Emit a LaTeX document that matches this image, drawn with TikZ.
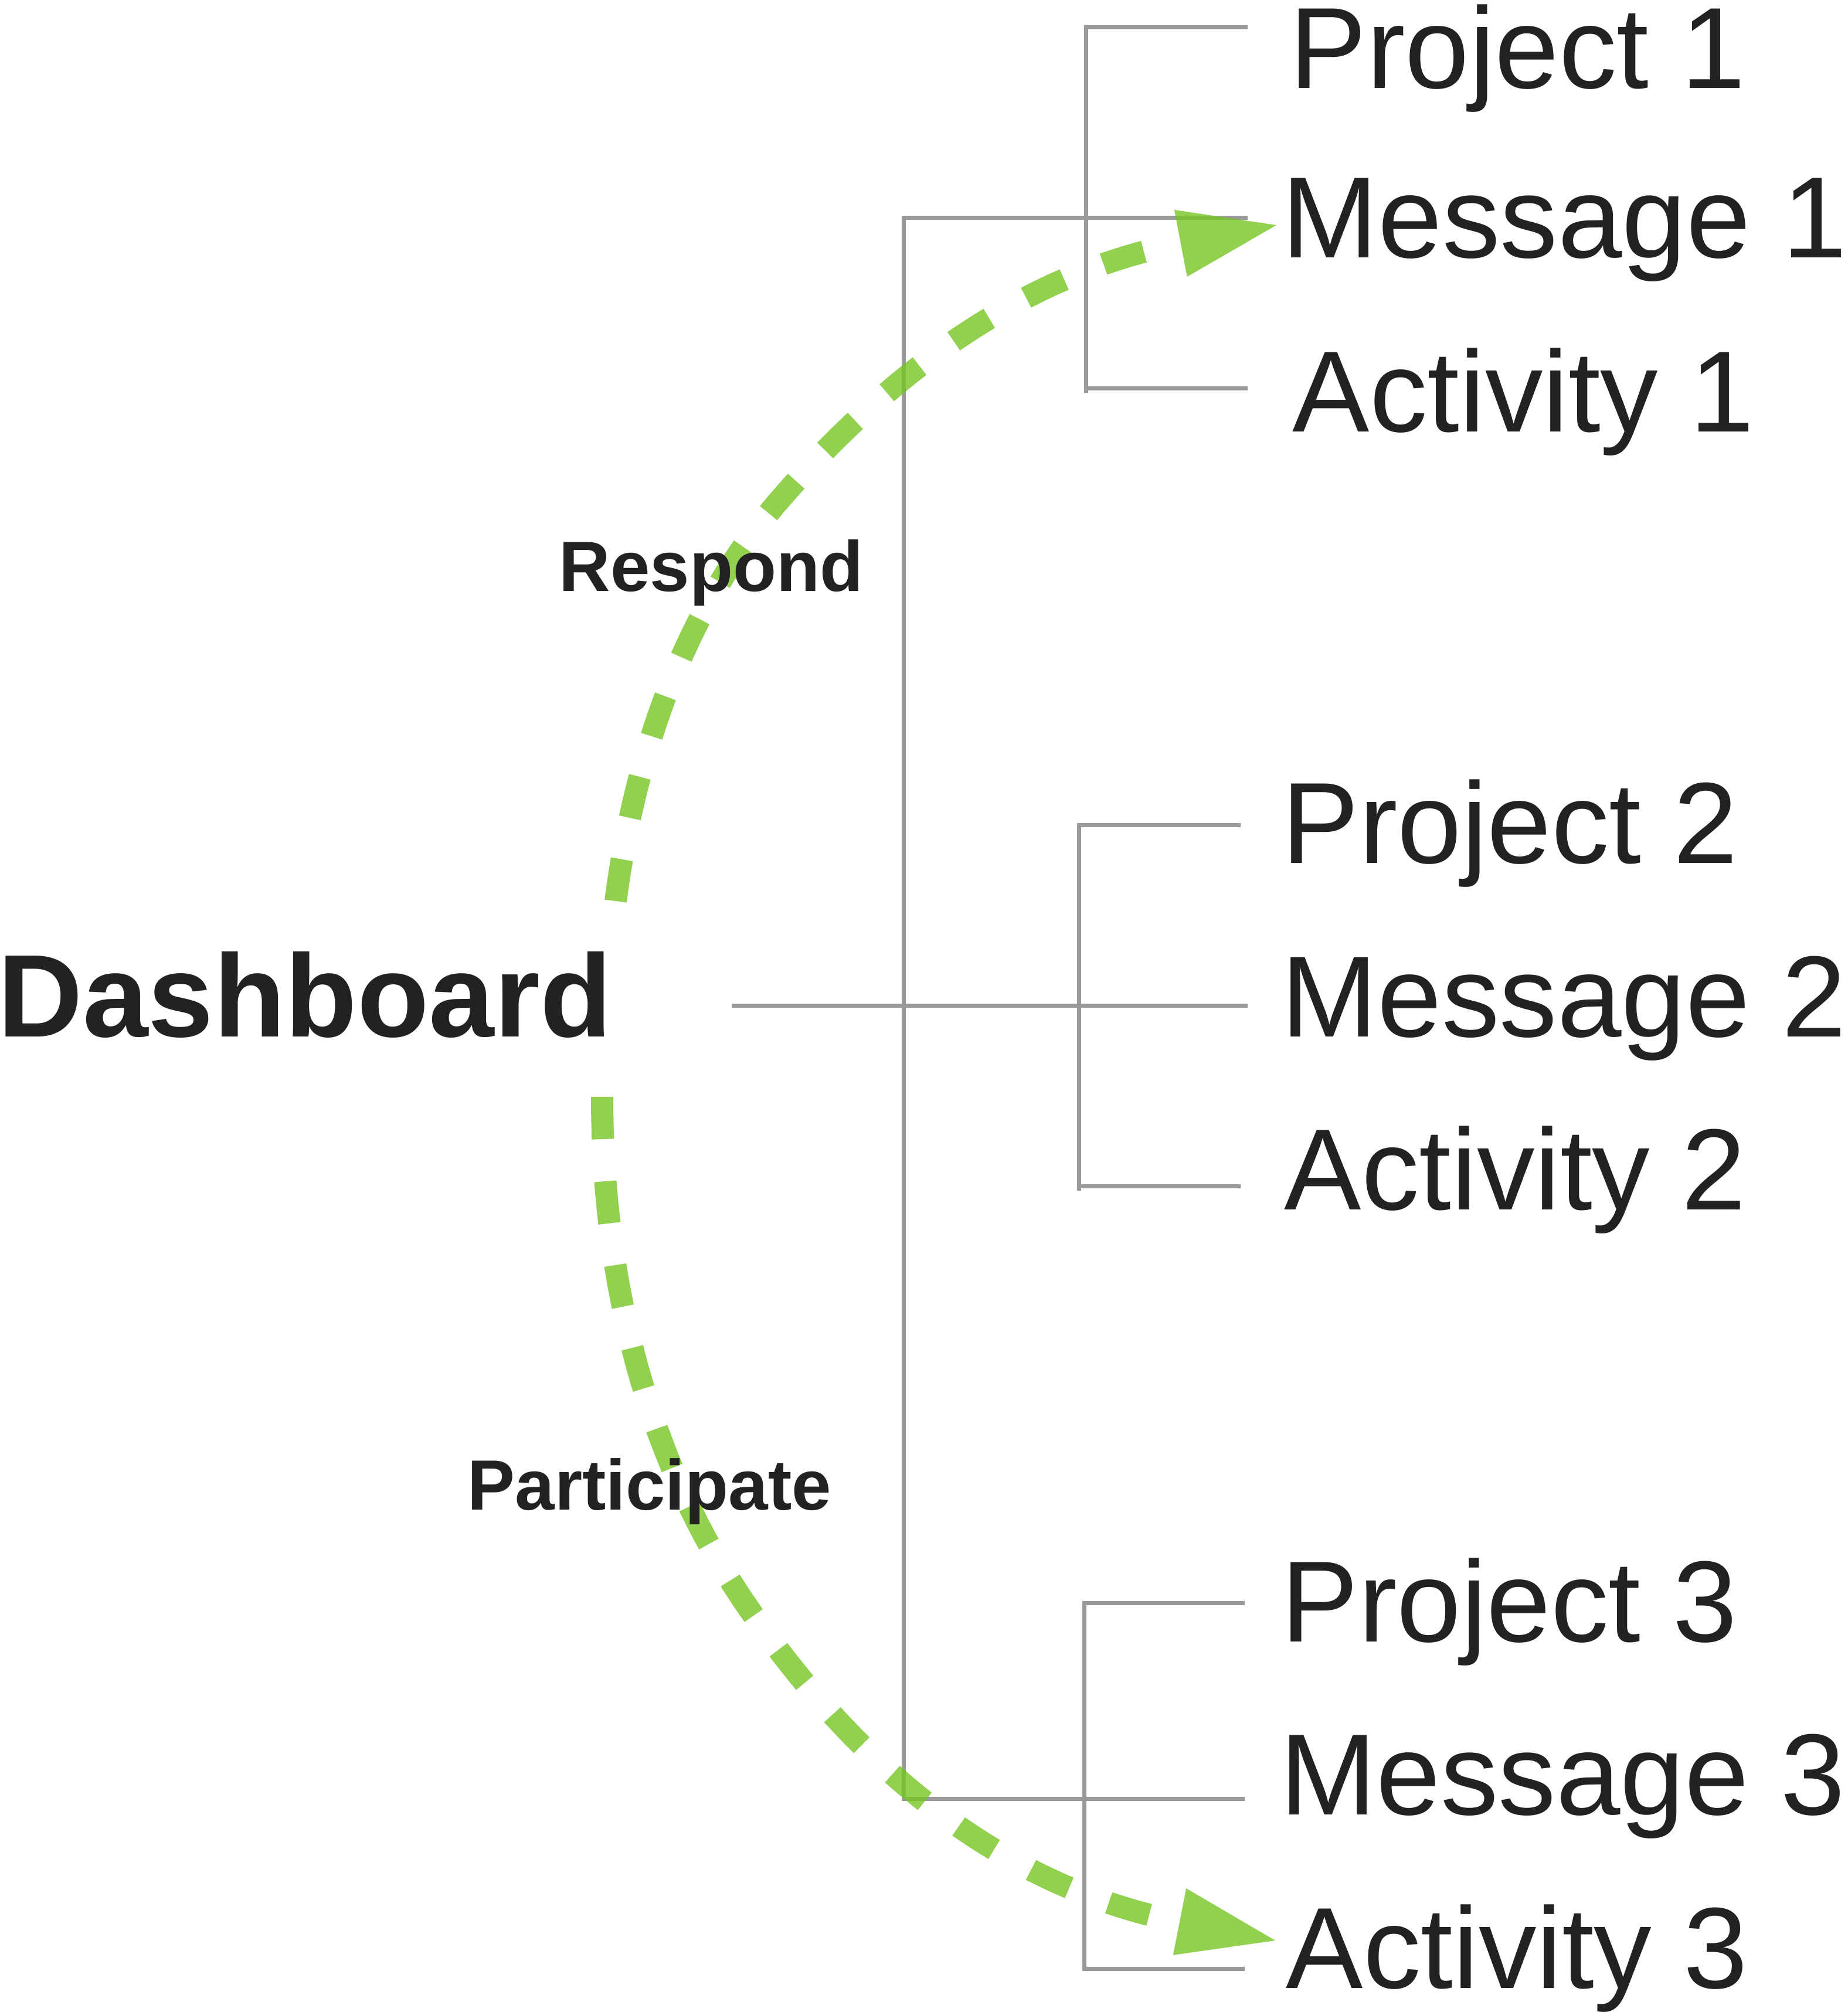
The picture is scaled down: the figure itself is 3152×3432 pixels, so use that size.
\documentclass[tikz,border=0pt]{standalone}
\usepackage{fontspec}
\setmainfont{Liberation Sans}
\usetikzlibrary{arrows.meta}
\pgfdeclarelayer{bg}
\pgfsetlayers{bg,main}
\definecolor{treegray}{RGB}{153,153,153}
\definecolor{flowgreen}{RGB}{119,196,36}
\definecolor{inkdark}{RGB}{34,34,34}
\begin{document}
\begin{tikzpicture}[x=0.01cm,y=-0.01cm,
  itemlbl/.style={anchor=base west,inner sep=0pt,text=inkdark,font=\fontsize{56pt}{60pt}\selectfont},
  rootlbl/.style={anchor=base west,inner sep=0pt,text=inkdark,font=\bfseries\fontsize{57pt}{61pt}\selectfont},
  flowlbl/.style={anchor=base west,inner sep=0pt,text=inkdark,font=\bfseries\fontsize{34.5pt}{38pt}\selectfont},
  treeline/.style={draw=treegray,line width=0.07cm,line join=miter},
  flowline/.style={draw=flowgreen,opacity=0.8,line width=0.38cm,dash pattern=on 0.72cm off 0.72cm,
    -{Triangle[length=1.66cm,width=1.16cm,line width=0pt]}}]
\useasboundingbox (0,0) rectangle (3152,3432);
% labels
\node[rootlbl] (dash) at (-4,1768) {Dashboard};
\node[itemlbl] (p1) at (2199,150) {Project 1};
\node[itemlbl] (m1) at (2186,439) {Message 1};
\node[itemlbl] (a1) at (2204,736) {Activity 1};
\node[itemlbl] (p2) at (2186,1472) {Project 2};
\node[itemlbl] (m2) at (2185,1768) {Message 2};
\node[itemlbl] (a2) at (2190,2063) {Activity 2};
\node[itemlbl] (p3) at (2185,2800) {Project 3};
\node[itemlbl] (m3) at (2183,3095) {Message 3};
\node[itemlbl] (a3) at (2193,3391) {Activity 3};
\node[flowlbl] (resp) at (953,1008) {Respond};
\node[flowlbl] (part) at (797,2575) {Participate};
% tree coordinates
\coordinate (root) at (1248,1715);
\coordinate (em2) at (2128,1715);
\coordinate (bt) at (1541,371);
\coordinate (bb) at (1541,3068);
\coordinate (em1) at (2128,371);
\coordinate (em3) at (2123,3068);
\coordinate (g1t) at (1852,46);
\coordinate (g1b) at (1852,662);
\coordinate (ep1) at (2128,46);
\coordinate (ea1) at (2128,662);
\coordinate (g2t) at (1840,1407);
\coordinate (g2b) at (1840,2023);
\coordinate (ep2) at (2116,1407);
\coordinate (ea2) at (2116,2023);
\coordinate (g3t) at (1849,2734);
\coordinate (g3b) at (1849,3358);
\coordinate (ep3) at (2123,2734);
\coordinate (ea3) at (2123,3358);
% flow coordinates
\coordinate (r0) at (1050,1537);
\coordinate (r1) at (1333,849);
\coordinate (r2) at (2177,384);
\coordinate (q0) at (1027,1871);
\coordinate (q1) at (1263,2723);
\coordinate (q2) at (2175,3310);
\begin{pgfonlayer}{bg}
\draw[treeline] (root) -- (em2);
\draw[treeline] (em1) -- (bt) -- (bb) -- (em3);
\draw[treeline] (ep1) -- (g1t) -- ([yshift=-0.08cm]g1b);
\draw[treeline] (g1b) -- (ea1);
\draw[treeline] (ep2) -- (g2t) -- ([yshift=-0.08cm]g2b);
\draw[treeline] (g2b) -- (ea2);
\draw[treeline] (ep3) -- (g3t) -- (g3b) -- (ea3);
\draw[flowline] (r0) .. controls (1082,1289) and (1168,1037) .. (r1)
  .. controls (1576,570) and (1814,453) .. (r2);
\draw[flowline] (q0) .. controls (1027,2171) and (1097,2473) .. (q1)
  .. controls (1496,3072) and (1763,3229) .. (q2);
\end{pgfonlayer}
\end{tikzpicture}
\end{document}
